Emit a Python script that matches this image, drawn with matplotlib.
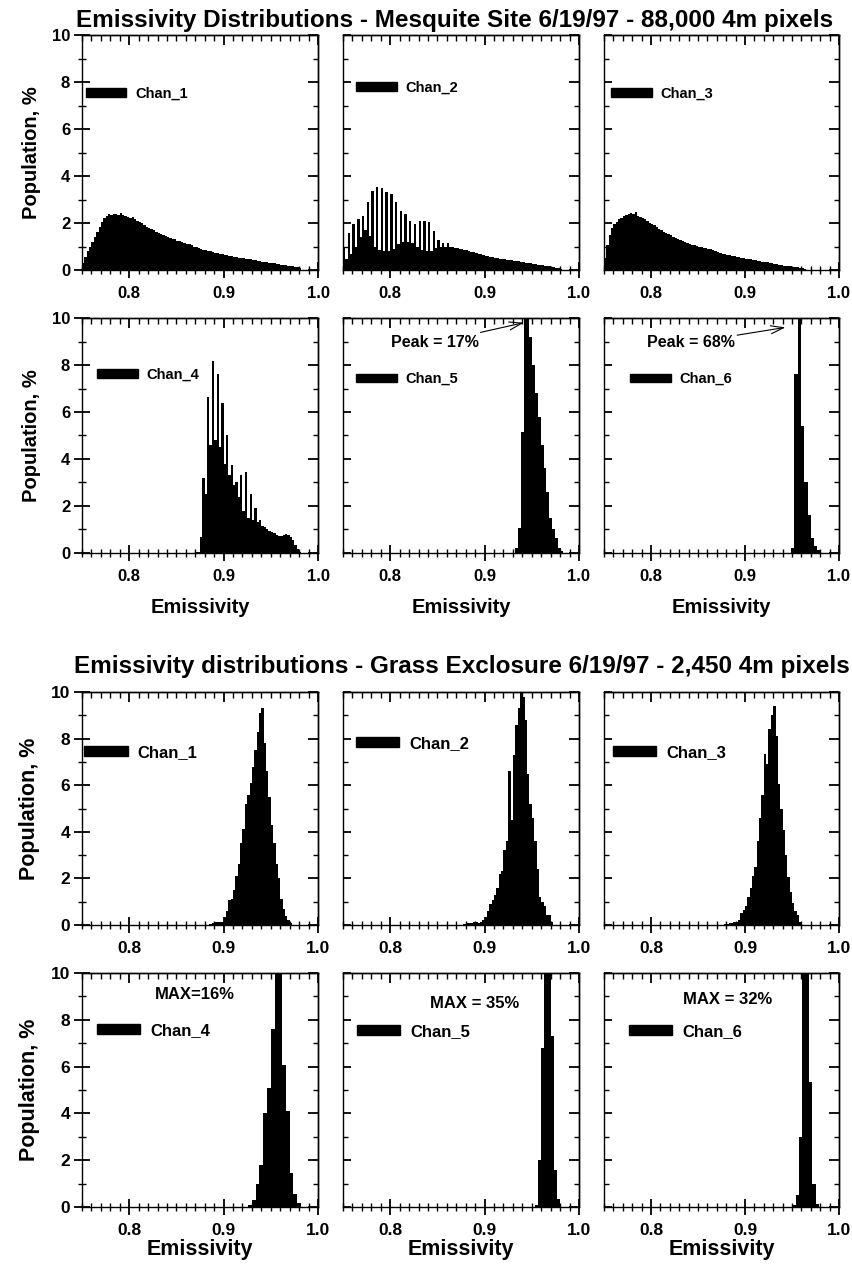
import numpy as np
import matplotlib
matplotlib.use("Agg")
import matplotlib.pyplot as plt
from matplotlib.patches import Patch
from matplotlib.ticker import MultipleLocator

# ---- data: population (%) per emissivity bin -------------------------------
# Mesquite site, 0.0025 wide bins starting at 0.75
mesq_start = 0.75
mesq_width = 0.0025
mesq_chan1 = [0.30, 0.55, 0.80, 1.00, 1.20, 1.40, 1.60, 1.85, 2.05, 2.20,
              2.30, 2.40, 2.35, 2.40, 2.38, 2.35, 2.42, 2.35, 2.28, 2.25,
              2.22, 2.25, 2.15, 2.10, 2.05, 1.98, 1.92, 1.85, 1.80, 1.75,
              1.70, 1.62, 1.58, 1.52, 1.48, 1.45, 1.42, 1.38, 1.33, 1.30,
              1.25, 1.22, 1.18, 1.15, 1.12, 1.10, 1.05, 1.00, 0.97, 0.93,
              0.90, 0.87, 0.85, 0.82, 0.80, 0.77, 0.74, 0.72, 0.70, 0.67,
              0.65, 0.63, 0.61, 0.59, 0.57, 0.55, 0.53, 0.52, 0.50, 0.48,
              0.46, 0.45, 0.43, 0.41, 0.40, 0.38, 0.36, 0.35, 0.33, 0.31,
              0.30, 0.28, 0.26, 0.25, 0.23, 0.21, 0.20, 0.18, 0.17, 0.15,
              0.14, 0.12, 0.10]
mesq_chan2 = [1.00, 0.45, 1.57, 0.70, 1.94, 1.00, 2.18, 1.40, 2.28, 1.70,
              2.89, 1.45, 3.36, 1.00, 3.53, 0.85, 3.50, 0.80, 3.31, 0.80,
              3.24, 0.90, 2.89, 1.10, 2.53, 1.20, 2.39, 1.20, 2.08, 1.15,
              1.96, 1.00, 2.10, 0.85, 2.08, 0.80, 2.03, 0.80, 1.68, 0.95,
              1.28, 1.00, 1.17, 1.00, 1.14, 1.00, 0.97, 0.95, 0.93, 0.90,
              0.88, 0.85, 0.83, 0.80, 0.78, 0.75, 0.72, 0.69, 0.66, 0.63,
              0.60, 0.58, 0.56, 0.54, 0.52, 0.50, 0.48, 0.47, 0.45, 0.44,
              0.42, 0.41, 0.40, 0.38, 0.37, 0.35, 0.33, 0.31, 0.29, 0.28,
              0.27, 0.25, 0.23, 0.22, 0.20, 0.18, 0.17, 0.15, 0.14, 0.12,
              0.10, 0.08, 0.06]
mesq_chan3 = [0.52, 1.08, 1.50, 1.80, 1.95, 2.05, 2.15, 2.22, 2.30, 2.35,
              2.38, 2.42, 2.40, 2.45, 2.28, 2.25, 2.20, 2.15, 2.07, 2.00,
              1.95, 1.90, 1.82, 1.75, 1.70, 1.62, 1.58, 1.52, 1.47, 1.42,
              1.38, 1.32, 1.28, 1.25, 1.20, 1.16, 1.12, 1.08, 1.05, 1.02,
              1.00, 0.97, 0.95, 0.92, 0.90, 0.88, 0.84, 0.80, 0.77, 0.74,
              0.70, 0.66, 0.64, 0.62, 0.60, 0.59, 0.56, 0.54, 0.52, 0.50,
              0.48, 0.46, 0.45, 0.43, 0.41, 0.40, 0.38, 0.36, 0.34, 0.32,
              0.30, 0.28, 0.27, 0.25, 0.23, 0.21, 0.19, 0.17, 0.16, 0.15,
              0.13, 0.12, 0.11, 0.10, 0.08, 0.05]
mesq_chan4_start = 0.87
mesq_chan4 = [0.05, 0.05, 0.68, 3.20, 2.50, 6.65, 4.60, 8.15, 4.80, 7.60,
              4.50, 6.40, 3.80, 5.00, 3.30, 3.75, 2.90, 3.00, 2.40, 3.30,
              1.80, 3.45, 1.50, 2.50, 1.40, 1.90, 1.30, 1.40, 1.15, 1.10,
              1.00, 0.95, 0.90, 0.85, 0.75, 0.72, 0.72, 0.78, 0.80, 0.75,
              0.70, 0.55, 0.35, 0.15, 0.05]
mesq_chan5_start = 0.9325
mesq_chan5_width = 0.003
mesq_chan5 = [0.20, 1.07, 5.14, 17.0, 14.0, 9.20, 8.00, 6.80, 5.80, 4.60,
              3.60, 2.60, 1.50, 1.00, 0.64, 0.20, 0.07]
mesq_chan6_start = 0.949
mesq_chan6_width = 0.0035
mesq_chan6 = [0.20, 7.60, 68.0, 5.40, 3.00, 1.60, 0.64, 0.29, 0.14]

# Grass exclosure
grass_chan1_start = 0.885
grass_chan1_width = 0.0025
grass_chan1 = [0.05, 0.08, 0.12, 0.12, 0.15, 0.15, 0.35, 0.60, 1.07, 1.10,
               1.50, 2.10, 2.60, 3.50, 4.10, 5.20, 5.60, 6.10, 6.80, 7.50,
               8.30, 9.10, 9.30, 7.80, 6.60, 5.50, 4.30, 3.50, 2.60, 2.00,
               1.10, 0.70, 0.40, 0.20, 0.10]
grass_chan2_start = 0.8775
grass_chan2_width = 0.0025
grass_chan2 = [0.05, 0.08, 0.10, 0.10, 0.12, 0.12, 0.10, 0.15, 0.20, 0.35,
               0.60, 0.90, 1.07, 1.30, 1.60, 2.20, 2.30, 3.20, 3.60, 6.60,
               4.50, 7.30, 8.60, 9.30, 10.5, 9.80, 8.80, 6.50, 5.20, 4.60,
               3.60, 2.40, 1.20, 1.00, 0.80, 0.43, 0.43, 0.15]
grass_chan3_start = 0.8775
grass_chan3_width = 0.0025
grass_chan3 = [0.05, 0.05, 0.08, 0.10, 0.12, 0.15, 0.20, 0.50, 0.65, 0.80,
               1.20, 1.60, 2.10, 2.50, 3.60, 4.60, 5.60, 7.35, 6.90, 8.40,
               9.00, 9.40, 8.10, 6.07, 5.00, 4.07, 3.00, 2.07, 1.40, 0.93,
               0.60, 0.43, 0.15]
grass_chan4_start = 0.926
grass_chan4_width = 0.004
grass_chan4 = [0.07, 0.30, 1.00, 1.80, 4.00, 5.10, 7.60, 16.0, 14.0, 6.07,
               4.10, 1.45, 0.57, 0.17]
grass_chan5_start = 0.9535
grass_chan5_width = 0.0033
grass_chan5 = [0.10, 2.00, 6.80, 35.0, 28.0, 7.30, 1.57, 0.36]
grass_chan6_start = 0.9505
grass_chan6_width = 0.0035
grass_chan6 = [0.10, 0.50, 3.00, 32.0, 25.0, 5.36, 0.97, 0.14]

titles = ["Emissivity Distributions - Mesquite Site 6/19/97 - 88,000 4m pixels",
          "Emissivity distributions - Grass Exclosure 6/19/97 - 2,450 4m pixels"]
chan_names = ["Chan_1", "Chan_2", "Chan_3", "Chan_4", "Chan_5", "Chan_6"]

panels = [
    (mesq_chan1, mesq_start, mesq_width),
    (mesq_chan2, mesq_start, mesq_width),
    (mesq_chan3, mesq_start, mesq_width),
    (mesq_chan4, mesq_chan4_start, mesq_width),
    (mesq_chan5, mesq_chan5_start, mesq_chan5_width),
    (mesq_chan6, mesq_chan6_start, mesq_chan6_width),
    (grass_chan1, grass_chan1_start, grass_chan1_width),
    (grass_chan2, grass_chan2_start, grass_chan2_width),
    (grass_chan3, grass_chan3_start, grass_chan3_width),
    (grass_chan4, grass_chan4_start, grass_chan4_width),
    (grass_chan5, grass_chan5_start, grass_chan5_width),
    (grass_chan6, grass_chan6_start, grass_chan6_width),
]

# ---- layout (pixels) -------------------------------------------------------
W, H = 852, 1268
cols = [(82, 318), (343, 579), (604, 839)]
rows = [(35, 270), (318, 553), (692, 925), (973, 1207)]
# legend anchor: (x fraction of axes, y in data)
leg_pos = [(0.015, 7.5), (0.055, 7.75), (0.03, 7.5),
           (0.064, 7.6), (0.055, 7.4), (0.11, 7.4),
           (0.01, 7.4), (0.054, 7.8), (0.037, 7.4),
           (0.062, 7.55), (0.06, 7.5), (0.107, 7.5)]

FAM = "Liberation Sans"
ARROW = "->,head_length=0.8,head_width=0.25"

fig = plt.figure(figsize=(W / 100, H / 100), dpi=100)
fig.patch.set_facecolor("white")


def add_ticks(ax, left_out):
    # bottom / left: ticks crossing the frame, top / right: ticks pointing in
    ax.xaxis.set_major_locator(MultipleLocator(0.1))
    ax.xaxis.set_minor_locator(MultipleLocator(0.01))
    ax.yaxis.set_major_locator(MultipleLocator(2))
    ax.yaxis.set_minor_locator(MultipleLocator(1))
    ax.tick_params(axis="x", which="major", direction="inout", length=11, width=1.3)
    ax.tick_params(axis="x", which="minor", direction="inout", length=6, width=1.0)
    ydir = "inout" if left_out else "in"
    ax.tick_params(axis="y", which="major", direction=ydir,
                   length=11 if left_out else 6, width=1.3)
    ax.tick_params(axis="y", which="minor", direction=ydir,
                   length=6 if left_out else 3.5, width=1.0)
    top = ax.secondary_xaxis("top")
    top.xaxis.set_major_locator(MultipleLocator(0.1))
    top.xaxis.set_minor_locator(MultipleLocator(0.01))
    top.tick_params(which="major", direction="in", length=7, width=1.3, labeltop=False)
    top.tick_params(which="minor", direction="in", length=4, width=1.0)
    right = ax.secondary_yaxis("right")
    right.yaxis.set_major_locator(MultipleLocator(2))
    right.yaxis.set_minor_locator(MultipleLocator(1))
    right.tick_params(which="major", direction="in", length=7, width=1.3, labelright=False)
    right.tick_params(which="minor", direction="in", length=3.5, width=1.0)
    for sec in (top, right):
        for sp in sec.spines.values():
            sp.set_linewidth(1.0)


for k, (vals, start, width) in enumerate(panels):
    r, c = divmod(k, 3)
    x0, x1 = cols[c]
    y0, y1 = rows[r]
    ax = fig.add_axes([x0 / W, 1 - y1 / H, (x1 - x0) / W, (y1 - y0) / H])

    edges = start + width * np.arange(len(vals) + 1)
    ax.stairs(vals, edges, fill=True, color="black", linewidth=0)

    ax.set_xlim(0.75, 1.0)
    ax.set_ylim(0, 10)
    for sp in ax.spines.values():
        sp.set_linewidth(1.0)
    add_ticks(ax, c == 0)
    ax.set_xticks([0.8, 0.9, 1.0])
    ax.set_xticklabels(["0.8", "0.9", "1.0"])
    ax.tick_params(axis="x", pad=6)
    ax.tick_params(axis="y", pad=3)

    fs_tick = 12.5 if r >= 2 else 12
    for lab in ax.get_xticklabels():
        lab.set_fontfamily(FAM)
        lab.set_fontweight("bold")
        lab.set_fontsize(fs_tick)

    if c == 0:
        ax.set_yticks([0, 2, 4, 6, 8, 10])
        for lab in ax.get_yticklabels():
            lab.set_fontfamily(FAM)
            lab.set_fontweight("bold")
            lab.set_fontsize(fs_tick)
        ax.set_ylabel("Population, %", fontsize=15.5 if r >= 2 else 14.5,
                      fontweight="bold", family=FAM, labelpad=8)
    else:
        ax.set_yticklabels([])

    if r == 1:
        ax.set_xlabel("Emissivity", fontsize=14.5, fontweight="bold",
                      family=FAM, labelpad=10)
    if r == 3:
        ax.set_xlabel("Emissivity", fontsize=15.5, fontweight="bold",
                      family=FAM, labelpad=1)

    lx, ly = leg_pos[k]
    ax.legend(handles=[Patch(facecolor="black", edgecolor="black")],
              labels=[chan_names[k % 6]], loc="center left",
              bbox_to_anchor=(lx, ly / 10), frameon=False, borderpad=0,
              borderaxespad=0, handlelength=2.8 if r < 2 else 2.6,
              handleheight=0.55, handletextpad=0.6,
              prop={"family": FAM, "weight": "bold",
                    "size": 12 if r >= 2 else 10.5})

    if k == 4:
        ax.annotate("Peak = 17%", xy=(0.9415, 9.8), xytext=(0.847, 8.95),
                    ha="center", va="center", fontsize=11.5, fontweight="bold",
                    family=FAM,
                    arrowprops=dict(arrowstyle=ARROW, lw=0.8, color="black",
                                    shrinkA=38, shrinkB=0))
    if k == 5:
        ax.annotate("Peak = 68%", xy=(0.943, 9.6), xytext=(0.842, 8.95),
                    ha="center", va="center", fontsize=11.5, fontweight="bold",
                    family=FAM,
                    arrowprops=dict(arrowstyle=ARROW, lw=0.8, color="black",
                                    shrinkA=38, shrinkB=0))
    if k == 9:
        ax.text(0.87, 9.06, "MAX=16%", ha="center", va="center", fontsize=12,
                fontweight="bold", family=FAM)
    if k == 10:
        ax.text(0.889, 8.7, "MAX = 35%", ha="center", va="center", fontsize=12,
                fontweight="bold", family=FAM)
    if k == 11:
        ax.text(0.881, 8.85, "MAX = 32%", ha="center", va="center", fontsize=12,
                fontweight="bold", family=FAM)

fig.text(455 / W, 1 - 20 / H, titles[0], ha="center", va="center",
         fontsize=17.5, fontweight="bold", family=FAM)
fig.text(462 / W, 1 - 667 / H, titles[1], ha="center", va="center",
         fontsize=17.5, fontweight="bold", family=FAM)

fig.savefig("out.png", dpi=100, facecolor="white")
